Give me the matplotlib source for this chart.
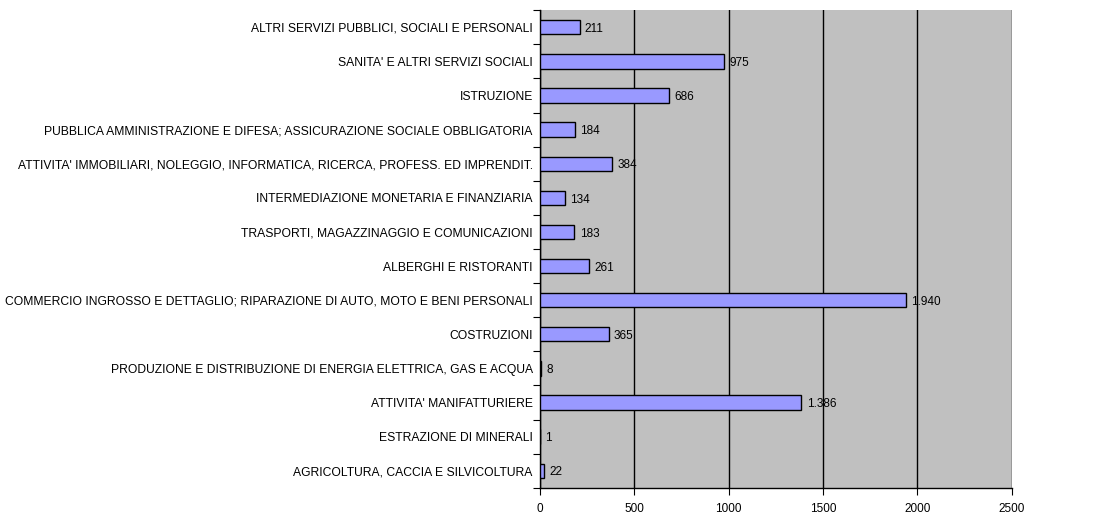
import matplotlib.pyplot as plt
from matplotlib import font_manager

categories = [
    "AGRICOLTURA, CACCIA E SILVICOLTURA",
    "ESTRAZIONE DI MINERALI",
    "ATTIVITA' MANIFATTURIERE",
    "PRODUZIONE E DISTRIBUZIONE DI ENERGIA ELETTRICA, GAS E ACQUA",
    "COSTRUZIONI",
    "COMMERCIO INGROSSO E DETTAGLIO; RIPARAZIONE DI AUTO, MOTO E BENI PERSONALI",
    "ALBERGHI E RISTORANTI",
    "TRASPORTI, MAGAZZINAGGIO E COMUNICAZIONI",
    "INTERMEDIAZIONE MONETARIA E FINANZIARIA",
    "ATTIVITA' IMMOBILIARI, NOLEGGIO, INFORMATICA, RICERCA, PROFESS. ED IMPRENDIT.",
    "PUBBLICA AMMINISTRAZIONE E DIFESA; ASSICURAZIONE SOCIALE OBBLIGATORIA",
    "ISTRUZIONE",
    "SANITA' E ALTRI SERVIZI SOCIALI",
    "ALTRI SERVIZI PUBBLICI, SOCIALI E PERSONALI",
]
values = [22, 1, 1386, 8, 365, 1940, 261, 183, 134, 384, 184, 686, 975, 211]
xticks = [0, 500, 1000, 1500, 2000, 2500]

names = {f.name for f in font_manager.fontManager.ttflist}
fam = "Liberation Sans Narrow" if "Liberation Sans Narrow" in names else "Liberation Sans"
plt.rcParams['font.family'] = [fam, 'DejaVu Sans']

fig = plt.figure(figsize=(11.13, 5.14), dpi=100)
ax = fig.add_axes([0.485, 0.051, 0.424, 0.929])
ax.set_facecolor('#c0c0c0')

y = range(len(categories))
ax.barh(y, values, height=0.42, color='#9999ff', edgecolor='black', linewidth=1, zorder=3)

# value labels, italian thousands separator
for i, v in enumerate(values):
    ax.text(v + 28, i - 0.05, f"{v:,}".replace(",", "."), va='center', ha='left', fontsize=8.5, zorder=4)

ax.set_xlim(0, 2500)
ax.set_ylim(-0.5, len(categories) - 0.5)
ax.set_xticks(xticks)
ax.set_xticklabels([str(t) for t in xticks], fontsize=8.5)
ax.set_yticks([i - 0.5 for i in range(len(categories) + 1)])
ax.set_yticklabels([])
ax.set_yticks(list(y), minor=True)
ax.set_yticklabels(categories, minor=True, fontsize=8.7)
ax.tick_params(axis='y', which='minor', length=0, pad=5)
ax.tick_params(axis='y', which='major', length=5, direction='out')
ax.tick_params(axis='x', length=5, direction='out', pad=6)

ax.grid(axis='x', color='black', linewidth=1, zorder=1)
ax.set_axisbelow(True)
for s in ['top', 'right']:
    ax.spines[s].set_visible(False)
ax.spines['left'].set_linewidth(1)
ax.spines['bottom'].set_linewidth(1)

fig.savefig('out.png', dpi=100)
